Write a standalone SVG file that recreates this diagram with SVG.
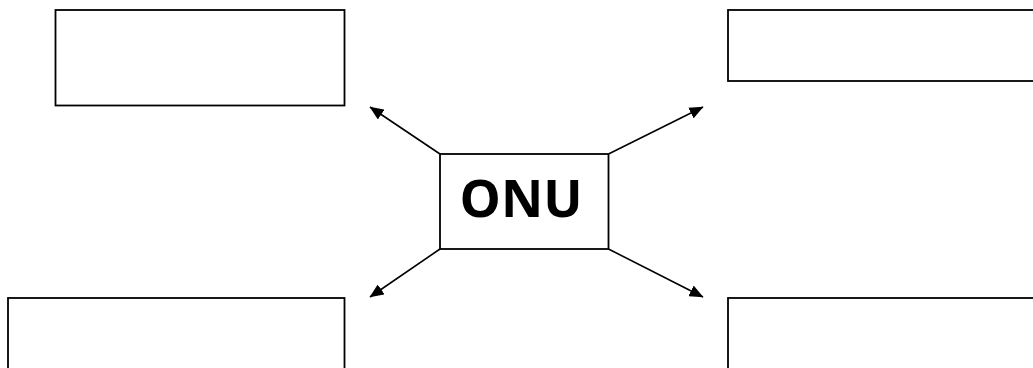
<svg xmlns="http://www.w3.org/2000/svg" width="1033" height="368" viewBox="0 0 1033 368">
<style>
.box{fill:#fff;stroke:#000;stroke-width:1.8}
.conn{stroke:#000;stroke-width:1.6;fill:none;marker-end:url(#ah)}
.lbl{font-family:"Open Sans","DejaVu Sans",sans-serif;font-weight:bold;font-size:52px;text-anchor:middle;fill:#000}
</style>
<defs>
<marker id="ah" markerWidth="14" markerHeight="12" refX="13.5" refY="6" orient="auto" markerUnits="userSpaceOnUse" viewBox="0 0 14 12">
<path d="M0,0 L14,6 L0,12 Z" fill="#000"/>
</marker>
</defs>
<rect width="1033" height="368" fill="#fff"/>
<g id="box-tl"><rect class="box" x="55.5" y="10" width="289" height="95.5"/></g>
<g id="box-tr"><rect class="box" x="728" y="10" width="310" height="71"/></g>
<g id="box-bl"><rect class="box" x="8" y="298" width="336.5" height="80"/></g>
<g id="box-br"><rect class="box" x="728" y="298" width="310" height="80"/></g>
<g id="onu"><rect class="box" x="440" y="154" width="168.5" height="95"/><text class="lbl" x="521" y="217">ONU</text></g>
<g id="connectors">
<line class="conn" x1="440" y1="154" x2="370" y2="107"/>
<line class="conn" x1="608.5" y1="154" x2="703" y2="107"/>
<line class="conn" x1="440" y1="249" x2="370" y2="297"/>
<line class="conn" x1="608.5" y1="249" x2="703" y2="297"/>
</g>
</svg>
